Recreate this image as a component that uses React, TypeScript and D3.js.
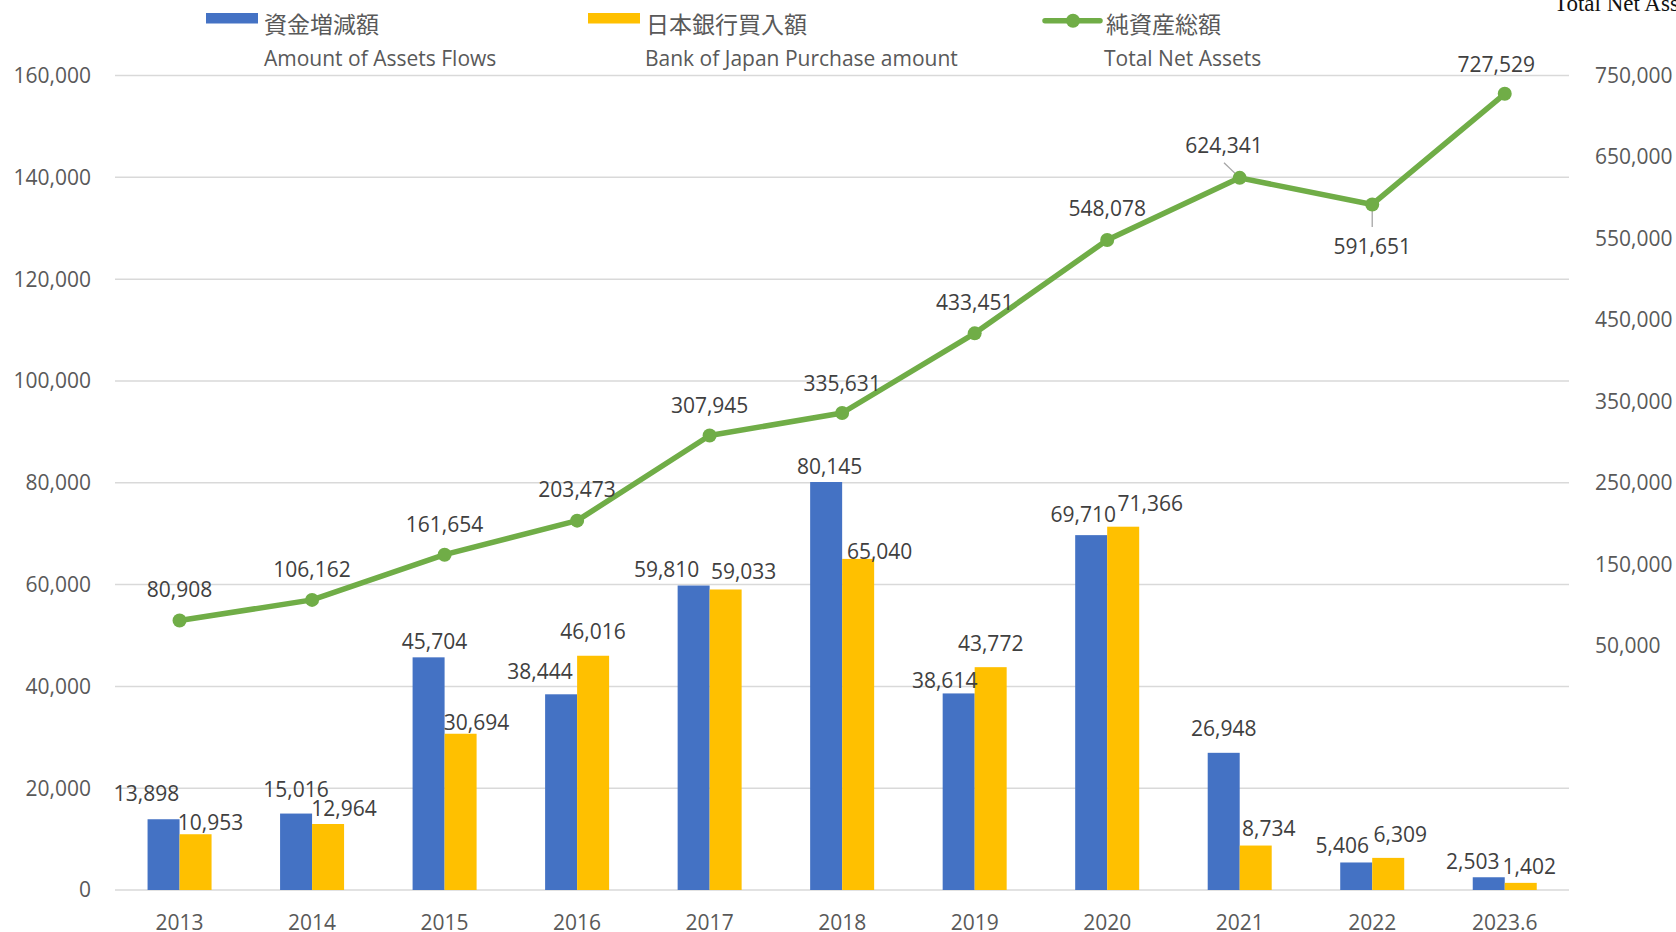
import React from "react";
import * as d3 from "d3";

const categories = ["2013", "2014", "2015", "2016", "2017", "2018", "2019", "2020", "2021", "2022", "2023.6"];
const assetFlows = [13898, 15016, 45704, 38444, 59810, 80145, 38614, 69710, 26948, 5406, 2503];
const bojPurchase = [10953, 12964, 30694, 46016, 59033, 65040, 43772, 71366, 8734, 6309, 1402];
const totalNetAssets = [80908, 106162, 161654, 203473, 307945, 335631, 433451, 548078, 624341, 591651, 727529];
const leftTicks = [0, 20000, 40000, 60000, 80000, 100000, 120000, 140000, 160000];
const rightTicks = [50000, 150000, 250000, 350000, 450000, 550000, 650000, 750000];

// label nudges (layout only): [dx, gap above bar top]
const flowNudge: [number, number][] = [[-17, 26], [0, 23.6], [6, 16], [-21, 23], [-27, 16], [3.5, 16], [-14, 12.5], [-8, 21], [0, 24], [-14, 17], [-16, 16]];
const bojNudge: [number, number][] = [[15, 12], [16, 16], [16, 11], [0, 24.6], [18, 17.5], [21.5, 7.5], [0, 24], [27, 23.5], [13, 17.5], [12, 23], [8.6, 16]];
// line label nudges: [dx, dy from point to label centre]
const lineNudge: [number, number][] = [[0, -30.5], [0, -30], [0, -30], [0, -31], [0, -30.5], [0, -30], [0, -31], [0, -31.6], [-15.6, -32.5], [0, 42.3], [-8.5, -29]];

const BLUE = "#4472C4";
const YELLOW = "#FFC000";
const GREEN = "#70AD47";
const FONT = "'Open Sans', 'Noto Sans', sans-serif";
const CJK = "'Noto Sans CJK JP', 'Noto Sans CJK SC', sans-serif";

export default function App() {
  const W = 1676, H = 932;
  const x = d3.scaleBand<string>().domain(categories).range([113.3, 1571]).paddingInner(0).paddingOuter(0);
  const bw = x.bandwidth();
  const cx = (c: string) => (x(c) as number) + bw / 2;
  const yL = d3.scaleLinear().domain([0, 160000]).range([890, 75.5]);
  const yR = d3.scaleLinear().domain([-250000, 750000]).range([890, 75.5]);
  const fmt = d3.format(",");
  const barW = 32;
  const fs = 21;
  const base = fs * 0.357;

  const line = d3.line<number>().x((_, i) => cx(categories[i])).y((d) => yR(d));

  return (
    <svg width={W} height={H} style={{ position: "absolute", left: 0, top: 0, display: "block", background: "#fff" }}>
      {/* gridlines */}
      {leftTicks.map((t) => (
        <line key={"g" + t} x1={115} x2={1569} y1={yL(t)} y2={yL(t)} stroke="#D9D9D9" strokeWidth={1.5} />
      ))}
      {/* left axis labels */}
      {leftTicks.map((t) => (
        <text key={"l" + t} x={91} y={yL(t) + base} textAnchor="end" fontFamily={FONT} fontSize={fs} fill="#595959">
          {fmt(t)}
        </text>
      ))}
      {/* right axis labels */}
      {rightTicks.map((t) => (
        <text key={"r" + t} x={1595} y={yR(t) + base} textAnchor="start" fontFamily={FONT} fontSize={fs} fill="#595959">
          {fmt(t)}
        </text>
      ))}
      <text x={1554} y={10.5} fontFamily="'Liberation Serif', 'DejaVu Serif', serif" fontSize={23} fill="#111">
        Total Net Assets
      </text>
      {/* category labels */}
      {categories.map((c) => (
        <text key={"c" + c} x={cx(c)} y={922.5 + base} textAnchor="middle" fontFamily={FONT} fontSize={fs} fill="#595959">
          {c}
        </text>
      ))}
      {/* bars */}
      {categories.map((c, i) => (
        <g key={"b" + c}>
          <rect x={cx(c) - barW} y={yL(assetFlows[i])} width={barW} height={yL(0) - yL(assetFlows[i])} fill={BLUE} />
          <rect x={cx(c)} y={yL(bojPurchase[i])} width={barW} height={yL(0) - yL(bojPurchase[i])} fill={YELLOW} />
        </g>
      ))}
      {/* bar labels */}
      {categories.map((c, i) => (
        <g key={"bl" + c} fontFamily={FONT} fontSize={fs} fill="#404040" textAnchor="middle">
          <text x={cx(c) - barW / 2 + flowNudge[i][0]} y={yL(assetFlows[i]) - flowNudge[i][1] + base}>
            {fmt(assetFlows[i])}
          </text>
          <text x={cx(c) + barW / 2 + bojNudge[i][0]} y={yL(bojPurchase[i]) - bojNudge[i][1] + base}>
            {fmt(bojPurchase[i])}
          </text>
        </g>
      ))}
      {/* leader lines */}
      <line x1={1224} y1={162.7} x2={cx(categories[8]) - 2} y2={yR(totalNetAssets[8]) - 2} stroke="#A6A6A6" strokeWidth={1.3} />
      <line x1={cx(categories[9])} y1={yR(totalNetAssets[9]) + 6} x2={cx(categories[9])} y2={227} stroke="#A6A6A6" strokeWidth={1.3} />
      {/* line */}
      <path d={line(totalNetAssets) || ""} fill="none" stroke={GREEN} strokeWidth={5.5} strokeLinejoin="round" />
      {totalNetAssets.map((v, i) => (
        <circle key={"m" + i} cx={cx(categories[i])} cy={yR(v)} r={7} fill={GREEN} />
      ))}
      {totalNetAssets.map((v, i) => (
        <text key={"ll" + i} x={cx(categories[i]) + lineNudge[i][0]} y={yR(v) + lineNudge[i][1] + base} textAnchor="middle" fontFamily={FONT} fontSize={fs} fill="#404040">
          {fmt(v)}
        </text>
      ))}
      {/* legend */}
      <rect x={206} y={13} width={52} height={10.5} fill={BLUE} />
      <text x={264} y={22.5} dominantBaseline="central" fontFamily={CJK} fontSize={23} fill="#595959">資金増減額</text>
      <text x={264} y={58.5 + base} fontFamily={FONT} fontSize={fs} fill="#595959">Amount of Assets Flows</text>

      <rect x={588} y={13} width={52} height={10.5} fill={YELLOW} />
      <text x={646} y={22.5} dominantBaseline="central" fontFamily={CJK} fontSize={23} fill="#595959">日本銀行買入額</text>
      <text x={645} y={58.5 + base} fontFamily={FONT} fontSize={fs} fill="#595959">Bank of Japan Purchase amount</text>

      <line x1={1045} x2={1100} y1={20.7} y2={20.7} stroke={GREEN} strokeWidth={5.5} strokeLinecap="round" />
      <circle cx={1073} cy={20.7} r={7} fill={GREEN} />
      <text x={1106} y={22.5} dominantBaseline="central" fontFamily={CJK} fontSize={23} fill="#595959">純資産総額</text>
      <text x={1104} y={58.5 + base} fontFamily={FONT} fontSize={fs} fill="#595959">Total Net Assets</text>
    </svg>
  );
}
